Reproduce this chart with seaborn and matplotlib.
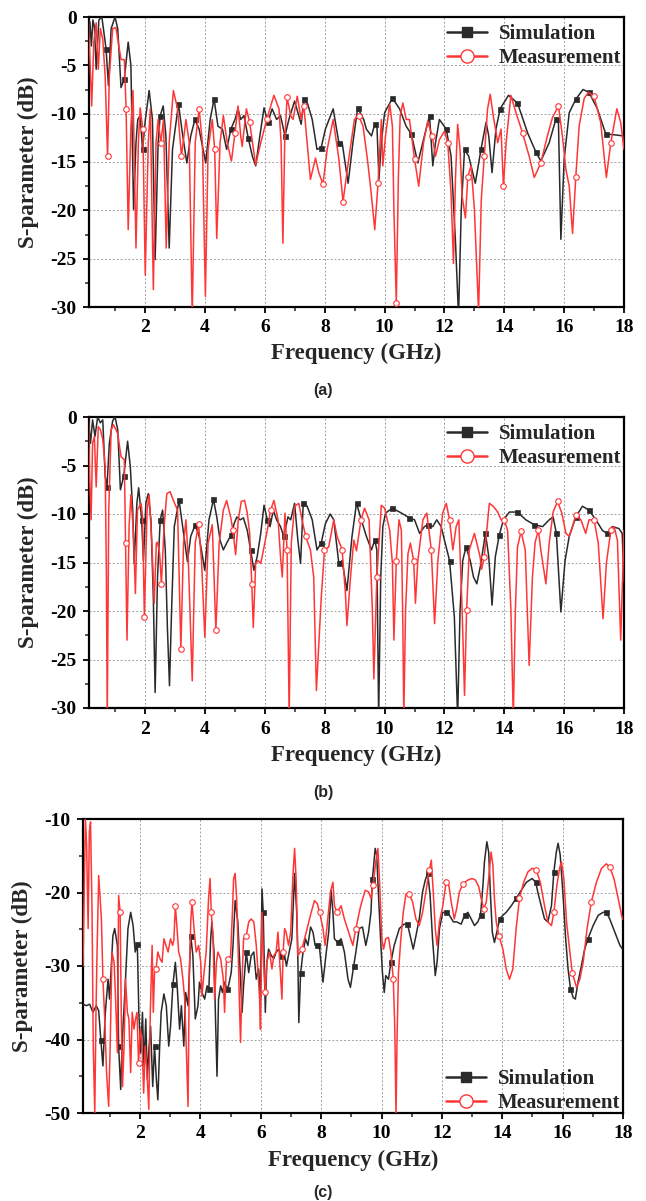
import numpy as np
import matplotlib
matplotlib.use("Agg")
import matplotlib.pyplot as plt
import seaborn as sns
from matplotlib.lines import Line2D
from matplotlib.ticker import MultipleLocator

# ---------------- data ----------------
# (a)
a_sim_f = [0.15, 0.2, 0.25, 0.3, 0.36, 0.45, 0.55, 0.69, 0.77, 0.86, 0.99, 1.08, 1.19, 1.3, 1.43, 1.52, 1.61, 1.69,
           1.75, 1.83, 1.91, 2.0, 2.13, 2.24, 2.33, 2.43, 2.5, 2.6, 2.69, 2.8, 2.91, 3.11, 3.24, 3.39, 3.52, 3.66, 3.8,
           4.02, 4.17, 4.3, 4.43, 4.58, 4.72, 4.86, 5.0, 5.1, 5.19, 5.3, 5.44, 5.58, 5.69, 5.83, 5.97, 6.1, 6.24, 6.39,
           6.52, 6.67, 6.8, 6.99, 7.13, 7.21, 7.3, 7.43, 7.58, 7.74, 7.88, 8.02, 8.28, 8.47, 8.58, 8.78, 8.94, 9.1, 9.3,
           9.39, 9.56, 9.67, 9.74, 9.81, 9.89, 10.0, 10.26, 10.5, 10.72, 10.89, 11.11, 11.33, 11.5, 11.61, 11.7, 11.83,
           12.06, 12.22, 12.37, 12.47, 12.56, 12.67, 12.81, 13.03, 13.22, 13.39, 13.48, 13.59, 13.72, 13.86, 14.14,
           14.44, 14.78, 15.06, 15.22, 15.5, 15.72, 15.81, 15.89, 16.0, 16.17, 16.39, 16.63, 16.83, 17.11, 17.39,
           17.72, 17.97, 18.0]
a_sim_db = [-0.5, -3.0, -0.3, -1.0, -5.4, -0.3, 0.0, -3.3, -7.1, -1.2, 0.0, -1.2, -7.3, -6.4, -2.6, -5.0, -19.9, -13.0,
            -10.6, -10.2, -13.7, -10.7, -7.6, -10.6, -25.1, -13.0, -10.2, -9.2, -12.3, -23.9, -13.7, -9.0, -12.0, -15.1,
            -12.3, -10.6, -11.6, -15.1, -10.6, -8.5, -11.3, -11.6, -13.7, -11.6, -10.6, -9.5, -10.6, -10.2, -12.5,
            -14.4, -15.4, -12.3, -9.4, -10.9, -9.5, -10.6, -10.2, -12.3, -10.6, -8.7, -10.2, -11.1, -8.5, -9.0, -10.6,
            -13.7, -13.5, -11.6, -9.5, -13.0, -13.0, -17.2, -13.0, -9.4, -10.6, -11.6, -12.3, -11.1, -11.0, -16.8,
            -13.0, -9.9, -8.4, -9.5, -11.3, -12.1, -15.1, -12.3, -10.2, -15.4, -13.0, -10.6, -11.6, -14.4, -23.4,
            -31.0, -20.0, -13.7, -14.4, -17.2, -13.7, -10.9, -12.3, -16.1, -11.6, -9.5, -8.1, -8.9, -12.0, -14.0,
            -14.9, -13.0, -10.6, -11.0, -23.0, -14.7, -9.9, -8.5, -7.5, -7.8, -9.5, -12.1, -12.2, -12.3, -13.0]
a_mea_f = [0.1, 0.17, 0.21, 0.28, 0.36, 0.43, 0.5, 0.58, 0.66, 0.74, 0.8, 0.91, 1.02, 1.19, 1.3, 1.36, 1.43, 1.52,
           1.59, 1.69, 1.77, 1.83, 1.92, 2.0, 2.1, 2.17, 2.27, 2.36, 2.43, 2.52, 2.61, 2.7, 2.8, 2.94, 3.08, 3.21,
           3.36, 3.47, 3.57, 3.67, 3.8, 3.91, 4.01, 4.1, 4.24, 4.32, 4.39, 4.5, 4.61, 4.74, 4.88, 5.0, 5.1, 5.19,
           5.24, 5.38, 5.49, 5.69, 5.86, 6.06, 6.3, 6.47, 6.54, 6.6, 6.66, 6.74, 6.86, 6.94, 7.08, 7.21, 7.3, 7.41,
           7.52, 7.69, 7.8, 7.94, 8.08, 8.28, 8.47, 8.61, 8.8, 8.99, 9.13, 9.28, 9.44, 9.56, 9.67, 9.78, 9.89, 9.94,
           10.03, 10.17, 10.26, 10.31, 10.39, 10.46, 10.52, 10.61, 10.72, 10.83, 11.0, 11.14, 11.3, 11.44, 11.59,
           11.7, 11.83, 12.0, 12.11, 12.22, 12.3, 12.37, 12.44, 12.52, 12.59, 12.7, 12.78, 12.89, 13.0, 13.14,
           13.23, 13.33, 13.44, 13.53, 13.63, 13.78, 13.89, 13.97, 14.06, 14.22, 14.39, 14.61, 14.83, 15.0, 15.22,
           15.44, 15.61, 15.81, 15.94, 16.06, 16.17, 16.28, 16.39, 16.5, 16.67, 16.81, 17.0, 17.22, 17.41, 17.56,
           17.76, 17.89, 18.0]
a_mea_db = [-0.2, -6.0, -9.2, -2.6, -0.6, -5.4, -1.2, -2.3, -6.1, -14.4, -6.1, -1.2, -1.1, -4.4, -4.4, -9.5, -22.0,
            -11.3, -7.6, -23.9, -13.0, -9.4, -11.6, -26.7, -13.0, -9.5, -28.2, -13.0, -10.6, -13.0, -10.6, -23.9,
            -13.0, -7.6, -9.5, -14.4, -10.6, -13.0, -31.0, -13.0, -9.5, -13.0, -28.9, -13.7, -10.6, -13.7, -22.9,
            -13.0, -10.2, -13.0, -14.9, -12.0, -9.2, -12.3, -13.4, -9.5, -10.9, -15.3, -13.0, -10.6, -8.1, -9.5,
            -13.0, -23.4, -13.0, -8.3, -10.2, -10.6, -8.2, -10.6, -9.2, -13.0, -16.8, -14.6, -16.1, -17.3, -13.7,
            -10.6, -14.7, -19.1, -14.7, -10.6, -10.2, -11.3, -15.1, -18.5, -22.0, -17.2, -10.6, -15.4, -12.3, -9.0,
            -11.3, -20.0, -29.6, -16.5, -10.2, -8.9, -10.6, -10.6, -14.7, -17.5, -13.0, -10.8, -12.3, -14.4, -12.7,
            -11.8, -13.0, -18.2, -25.5, -16.5, -11.1, -13.7, -18.5, -20.8, -16.5, -15.4, -19.9, -30.5, -18.9, -14.4,
            -9.5, -8.0, -10.2, -13.0, -11.6, -17.5, -13.0, -8.1, -9.9, -12.0, -14.4, -16.6, -15.1, -12.3, -10.4,
            -9.2, -12.3, -15.8, -17.5, -22.4, -16.5, -11.3, -8.4, -7.8, -8.2, -10.9, -16.6, -13.0, -9.5, -10.9, -13.7]

# (b)
b_sim_f = [0.1, 0.17, 0.24, 0.32, 0.41, 0.5, 0.58, 0.66, 0.72, 0.8, 0.91, 0.99, 1.08, 1.17, 1.28, 1.41, 1.5, 1.58,
           1.63, 1.72, 1.78, 1.88, 1.94, 2.02, 2.1, 2.19, 2.27, 2.33, 2.41, 2.5, 2.58, 2.67, 2.74, 2.81, 2.88, 2.97,
           3.13, 3.28, 3.41, 3.52, 3.67, 3.8, 3.99, 4.13, 4.28, 4.39, 4.5, 4.61, 4.72, 4.86, 4.97, 5.06, 5.17, 5.28,
           5.41, 5.52, 5.63, 5.74, 5.86, 5.97, 6.08, 6.17, 6.28, 6.39, 6.52, 6.63, 6.77, 6.86, 6.99, 7.1, 7.19, 7.28,
           7.41, 7.58, 7.74, 7.88, 8.02, 8.18, 8.3, 8.47, 8.58, 8.74, 8.91, 9.06, 9.22, 9.39, 9.56, 9.67, 9.74, 9.8,
           9.87, 9.94, 10.03, 10.26, 10.56, 10.83, 11.0, 11.17, 11.33, 11.44, 11.61, 11.74, 11.89, 12.0, 12.17,
           12.33, 12.44, 12.52, 12.61, 12.72, 12.86, 12.97, 13.08, 13.2, 13.37, 13.48, 13.59, 13.7, 13.83, 13.97,
           14.17, 14.44, 14.72, 15.0, 15.28, 15.5, 15.63, 15.74, 15.89, 16.03, 16.17, 16.39, 16.61, 16.83, 17.06,
           17.28, 17.44, 17.61, 17.83, 17.94, 18.0]
b_sim_db = [-0.3, -2.7, -0.3, -2.0, 0.0, -0.6, -0.3, -6.1, -7.2, -2.7, -0.4, 0.0, -1.3, -7.5, -6.1, -2.5, -5.1, -9.6,
            -15.1, -8.9, -7.3, -10.6, -14.8, -8.9, -7.9, -10.6, -18.6, -28.4, -16.5, -10.6, -9.6, -13.7, -21.7, -27.7,
            -19.9, -11.3, -8.6, -12.0, -14.9, -12.3, -11.1, -12.3, -15.8, -10.6, -8.5, -10.3, -12.7, -13.7, -13.0,
            -12.2, -11.0, -10.3, -10.6, -10.4, -11.7, -13.7, -15.8, -14.4, -12.0, -9.1, -10.6, -11.3, -9.6, -10.6,
            -11.3, -12.3, -10.3, -10.6, -8.9, -12.7, -15.1, -8.9, -9.2, -10.6, -13.7, -13.0, -11.0, -10.0, -10.6,
            -15.1, -14.8, -17.9, -12.3, -8.9, -10.6, -12.3, -13.7, -12.7, -13.7, -31.0, -16.5, -11.3, -9.9, -9.4,
            -9.9, -10.4, -10.6, -12.0, -11.3, -11.1, -11.3, -10.6, -11.3, -12.7, -14.8, -20.6, -31.0, -20.0, -14.8,
            -13.4, -14.8, -16.5, -17.2, -15.4, -12.0, -14.4, -19.4, -14.4, -12.2, -10.6, -9.8, -9.8, -10.6, -11.1,
            -11.3, -10.6, -10.3, -12.0, -20.1, -14.8, -12.3, -10.3, -9.2, -9.6, -10.6, -11.7, -12.0, -11.3, -11.5,
            -12.0, -17.0]
b_mea_f = [0.1, 0.14, 0.19, 0.24, 0.3, 0.36, 0.43, 0.5, 0.58, 0.66, 0.7, 0.73, 0.78, 0.86, 0.94, 1.08, 1.19, 1.3,
           1.34, 1.39, 1.46, 1.52, 1.61, 1.67, 1.74, 1.86, 1.91, 1.97, 2.06, 2.13, 2.22, 2.3, 2.37, 2.41, 2.48, 2.54,
           2.63, 2.72, 2.83, 2.94, 3.08, 3.19, 3.28, 3.36, 3.44, 3.57, 3.67, 3.78, 3.88, 3.99, 4.1, 4.24, 4.36, 4.47,
           4.61, 4.72, 4.86, 4.93, 5.02, 5.11, 5.21, 5.32, 5.41, 5.49, 5.56, 5.61, 5.69, 5.77, 5.86, 5.97, 6.1, 6.19,
           6.3, 6.44, 6.52, 6.58, 6.67, 6.74, 6.81, 6.88, 6.99, 7.13, 7.24, 7.36, 7.52, 7.63, 7.72, 7.8, 7.88, 7.99,
           8.13, 8.3, 8.41, 8.58, 8.69, 8.74, 8.86, 8.97, 9.06, 9.21, 9.33, 9.48, 9.59, 9.64, 9.74, 9.89, 10.0,
           10.17, 10.26, 10.31, 10.39, 10.48, 10.56, 10.61, 10.64, 10.7, 10.78, 10.86, 10.97, 11.03, 11.11, 11.28,
           11.41, 11.56, 11.67, 11.78, 11.94, 12.06, 12.17, 12.28, 12.39, 12.48, 12.59, 12.67, 12.74, 12.83, 13.0,
           13.19, 13.24, 13.33, 13.5, 13.63, 13.78, 13.89, 14.0, 14.11, 14.22, 14.3, 14.37, 14.44, 14.56, 14.7,
           14.83, 14.94, 15.03, 15.14, 15.22, 15.39, 15.5, 15.63, 15.78, 15.92, 16.06, 16.17, 16.26, 16.39, 16.56,
           16.72, 16.83, 17.0, 17.14, 17.3, 17.41, 17.56, 17.67, 17.78, 17.89, 18.0]
b_mea_db = [0.0, -6.1, -10.6, -2.7, -2.0, -7.2, -1.0, -1.3, -2.3, -5.1, -15.8, -31.0, -9.6, -1.3, -0.8, -1.7, -4.1,
            -4.4, -13.0, -23.0, -11.3, -8.0, -12.3, -18.2, -9.6, -8.9, -10.3, -20.6, -9.6, -8.0, -13.0, -19.2, -13.0,
            -12.9, -14.1, -17.2, -11.3, -7.9, -7.7, -8.6, -9.6, -23.9, -13.0, -10.6, -14.8, -27.2, -13.0, -11.0,
            -14.8, -22.7, -13.0, -11.1, -22.0, -13.0, -9.6, -8.6, -10.4, -11.7, -14.2, -10.6, -8.7, -8.6, -9.9,
            -12.0, -17.2, -21.7, -15.1, -14.8, -15.1, -13.4, -11.3, -9.6, -8.6, -10.6, -14.4, -16.5, -9.9, -13.7,
            -31.0, -13.0, -9.2, -8.9, -10.6, -12.3, -13.7, -16.5, -28.2, -23.4, -18.7, -13.7, -13.4, -10.6, -12.3,
            -13.7, -18.2, -21.5, -16.5, -12.7, -13.8, -10.6, -9.4, -10.6, -19.9, -27.0, -16.5, -9.1, -9.4, -11.7,
            -15.1, -23.0, -14.8, -10.6, -11.7, -21.7, -31.0, -19.9, -14.1, -13.0, -14.8, -19.2, -14.8, -10.6, -9.9,
            -13.7, -21.3, -14.8, -9.9, -8.9, -10.6, -13.7, -11.3, -10.6, -19.9, -28.7, -19.9, -13.7, -12.0, -14.4,
            -15.7, -14.4, -8.9, -9.2, -9.8, -10.6, -10.6, -11.7, -19.9, -31.0, -19.9, -13.4, -11.8, -13.7, -25.6,
            -16.5, -12.9, -11.7, -13.7, -17.2, -13.0, -9.8, -8.7, -9.9, -12.0, -12.3, -11.5, -10.1, -10.6, -12.0,
            -10.6, -10.6, -13.0, -20.8, -15.1, -11.7, -11.3, -12.7, -23.0, -11.7]

# (c)
c_sim_f = [0.11, 0.22, 0.33, 0.44, 0.55, 0.63, 0.7, 0.77, 0.85, 0.94, 0.99, 1.1, 1.16, 1.25, 1.29, 1.36, 1.41, 1.49,
           1.6, 1.69, 1.77, 1.84, 1.91, 1.96, 2.02, 2.08, 2.13, 2.19, 2.24, 2.3, 2.35, 2.42, 2.48, 2.54, 2.59, 2.65,
           2.7, 2.79, 2.87, 2.95, 3.01, 3.09, 3.17, 3.23, 3.31, 3.37, 3.45, 3.51, 3.59, 3.68, 3.75, 3.83, 3.92, 3.97,
           4.05, 4.14, 4.22, 4.28, 4.34, 4.38, 4.45, 4.5, 4.55, 4.6, 4.67, 4.73, 4.8, 4.88, 4.93, 5.02, 5.08, 5.15,
           5.24, 5.32, 5.38, 5.43, 5.52, 5.6, 5.68, 5.77, 5.85, 5.93, 5.99, 6.04, 6.08, 6.15, 6.2, 6.26, 6.35, 6.43,
           6.51, 6.6, 6.68, 6.77, 6.85, 6.94, 7.03, 7.12, 7.19, 7.23, 7.26, 7.32, 7.4, 7.48, 7.56, 7.65, 7.73, 7.8,
           7.87, 7.95, 8.06, 8.17, 8.25, 8.33, 8.39, 8.44, 8.55, 8.66, 8.77, 8.89, 8.97, 9.08, 9.15, 9.26, 9.37,
           9.48, 9.57, 9.65, 9.7, 9.79, 9.84, 9.9, 9.98, 10.03, 10.09, 10.14, 10.23, 10.31, 10.42, 10.59, 10.75,
           10.86, 10.97, 11.05, 11.14, 11.25, 11.36, 11.45, 11.53, 11.61, 11.69, 11.78, 11.84, 11.92, 12.03, 12.14,
           12.25, 12.38, 12.49, 12.64, 12.75, 12.86, 12.97, 13.08, 13.19, 13.28, 13.36, 13.41, 13.49, 13.55, 13.61,
           13.67, 13.74, 13.82, 13.91, 14.02, 14.13, 14.3, 14.46, 14.63, 14.8, 14.99, 15.11, 15.18, 15.29, 15.4,
           15.51, 15.63, 15.71, 15.79, 15.85, 15.92, 16.02, 16.1, 16.18, 16.26, 16.35, 16.42, 16.51, 16.62, 16.73,
           16.84, 17.01, 17.18, 17.34, 17.45, 17.56, 17.73, 17.9, 17.98]
c_sim_db = [-35.2, -35.4, -35.2, -36.3, -35.4, -36.1, -40.0, -43.6, -36.3, -31.8, -34.5, -25.9, -24.9, -27.2, -40.9,
            -46.8, -40.2, -34.1, -24.9, -22.7, -24.5, -28.1, -27.0, -36.3, -41.8, -36.3, -43.6, -37.2, -45.4, -40.9,
            -38.2, -46.4, -40.9, -45.4, -48.2, -40.9, -36.3, -33.8, -35.4, -40.9, -38.2, -32.5, -29.5, -32.7, -38.6,
            -35.4, -40.9, -33.6, -35.4, -25.9, -28.6, -37.2, -35.4, -32.2, -33.6, -34.5, -32.7, -33.1, -26.3, -24.0,
            -28.1, -37.2, -45.0, -34.5, -32.7, -33.6, -32.2, -33.1, -32.7, -30.9, -27.2, -21.1, -24.0, -30.9, -36.3,
            -32.7, -28.1, -30.9, -28.6, -28.1, -31.8, -30.4, -34.5, -19.5, -22.7, -36.3, -29.5, -27.7, -28.6, -29.0,
            -28.1, -27.7, -28.6, -28.1, -30.0, -28.1, -26.3, -17.4, -22.7, -29.5, -37.7, -30.9, -28.1, -26.3, -27.2,
            -24.7, -25.4, -27.2, -27.2, -27.7, -32.2, -28.1, -25.4, -19.7, -22.7, -26.3, -26.8, -26.3, -28.1, -31.8,
            -32.9, -30.0, -28.1, -24.9, -24.7, -27.2, -25.4, -22.7, -18.1, -14.0, -14.9, -20.4, -27.2, -30.9, -33.6,
            -31.3, -31.8, -29.5, -27.2, -24.9, -24.3, -24.3, -26.3, -27.7, -25.9, -23.6, -19.9, -18.3, -17.4, -20.4,
            -26.3, -31.3, -29.5, -24.9, -22.7, -22.7, -23.1, -24.0, -24.0, -24.3, -23.1, -22.7, -23.6, -24.5, -24.0,
            -23.1, -19.0, -15.8, -13.1, -14.5, -20.4, -25.4, -26.8, -25.4, -23.6, -23.1, -22.7, -21.8, -20.8, -19.7,
            -18.6, -18.1, -18.6, -20.0, -21.8, -23.6, -24.0, -21.8, -17.2, -14.5, -13.3, -14.9, -20.8, -26.3, -30.4,
            -33.1, -34.3, -34.5, -32.2, -30.0, -27.7, -26.3, -24.5, -23.1, -22.7, -22.7, -23.6, -25.4, -27.2, -27.7]
c_mea_f = [0.11, 0.14, 0.19, 0.23, 0.28, 0.32, 0.36, 0.41, 0.45, 0.5, 0.54, 0.58, 0.63, 0.67, 0.72, 0.77, 0.83, 0.89,
           0.96, 1.01, 1.07, 1.14, 1.19, 1.25, 1.29, 1.34, 1.38, 1.42, 1.47, 1.52, 1.58, 1.63, 1.69, 1.74, 1.8, 1.85,
           1.9, 1.95, 2.01, 2.06, 2.12, 2.17, 2.23, 2.29, 2.34, 2.4, 2.44, 2.48, 2.53, 2.59, 2.66, 2.73, 2.79, 2.86,
           2.93, 3.01, 3.08, 3.12, 3.17, 3.21, 3.28, 3.34, 3.42, 3.48, 3.53, 3.59, 3.63, 3.68, 3.72, 3.79, 3.86, 3.94,
           4.01, 4.05, 4.12, 4.19, 4.27, 4.32, 4.36, 4.42, 4.47, 4.53, 4.58, 4.67, 4.76, 4.8, 4.86, 4.93, 5.0, 5.06,
           5.1, 5.15, 5.2, 5.24, 5.3, 5.33, 5.38, 5.43, 5.52, 5.6, 5.68, 5.77, 5.85, 5.91, 5.96, 5.99, 6.04, 6.09,
           6.15, 6.2, 6.29, 6.37, 6.43, 6.51, 6.57, 6.62, 6.66, 6.7, 6.74, 6.79, 6.84, 6.92, 6.99, 7.06, 7.12, 7.17,
           7.23, 7.3, 7.36, 7.45, 7.56, 7.67, 7.78, 7.87, 7.95, 8.06, 8.13, 8.22, 8.31, 8.39, 8.44, 8.53, 8.66, 8.77,
           8.91, 9.05, 9.15, 9.31, 9.46, 9.57, 9.65, 9.72, 9.81, 9.88, 9.94, 10.01, 10.07, 10.14, 10.23, 10.31,
           10.39, 10.44, 10.48, 10.51, 10.56, 10.64, 10.72, 10.81, 10.92, 11.03, 11.14, 11.25, 11.36, 11.47, 11.58,
           11.65, 11.72, 11.78, 11.84, 11.92, 12.03, 12.14, 12.23, 12.31, 12.41, 12.49, 12.58, 12.71, 12.86, 13.0,
           13.11, 13.22, 13.3, 13.39, 13.47, 13.55, 13.63, 13.69, 13.74, 13.8, 13.89, 14.02, 14.13, 14.24, 14.35,
           14.46, 14.57, 14.71, 14.85, 14.99, 15.13, 15.26, 15.4, 15.51, 15.63, 15.71, 15.81, 15.9, 15.96, 16.04,
           16.13, 16.24, 16.32, 16.46, 16.57, 16.68, 16.81, 16.95, 17.12, 17.29, 17.45, 17.56, 17.7, 17.84, 17.98]
c_mea_db = [-30.0, -22.7, -10.0, -13.6, -24.9, -11.7, -10.4, -22.7, -40.9, -50.0, -36.3, -27.2, -17.7, -20.4, -23.6,
            -31.8, -37.2, -44.5, -49.1, -40.9, -28.1, -29.5, -34.5, -41.8, -20.4, -22.7, -37.2, -46.4, -40.9, -31.8,
            -36.3, -37.2, -44.5, -36.3, -38.6, -37.2, -36.3, -43.2, -38.6, -40.0, -47.3, -40.9, -44.5, -49.5, -36.3,
            -27.2, -36.3, -30.9, -30.4, -28.1, -29.0, -29.5, -26.3, -27.2, -28.1, -26.3, -27.2, -26.5, -21.8, -24.0,
            -28.1, -29.0, -31.8, -34.5, -40.9, -49.1, -31.8, -24.0, -21.3, -25.0, -28.1, -27.2, -29.5, -34.1, -30.9,
            -28.1, -20.8, -18.1, -22.7, -26.3, -34.5, -29.5, -28.1, -29.0, -31.8, -36.3, -29.5, -29.0, -28.6, -22.7,
            -18.1, -17.4, -20.8, -26.3, -36.3, -40.4, -31.8, -26.3, -25.9, -24.0, -23.6, -24.0, -27.2, -30.9, -34.5,
            -38.6, -22.7, -29.5, -33.6, -29.5, -28.1, -30.4, -28.6, -28.1, -25.4, -29.0, -31.8, -34.5, -28.1, -24.9,
            -25.4, -27.2, -25.4, -18.1, -14.0, -18.1, -28.6, -28.1, -27.7, -26.3, -24.5, -22.7, -21.1, -21.5, -22.7,
            -24.9, -27.2, -23.6, -19.9, -18.6, -21.8, -22.7, -21.8, -23.6, -25.4, -27.2, -24.9, -21.8, -19.7, -19.9,
            -20.8, -19.0, -15.8, -14.0, -19.0, -26.3, -27.7, -26.3, -26.1, -28.1, -31.8, -38.6, -50.5, -40.9, -30.9,
            -26.3, -22.7, -20.2, -20.2, -21.3, -23.6, -24.5, -22.7, -19.9, -17.0, -15.6, -20.4, -24.9, -27.2, -24.0,
            -21.8, -18.6, -19.0, -21.3, -23.6, -22.2, -19.9, -18.8, -18.3, -18.1, -18.3, -19.2, -20.8, -22.2, -21.3,
            -18.1, -14.5, -16.3, -20.8, -24.0, -25.9, -27.7, -30.4, -31.8, -30.4, -24.9, -20.8, -18.6, -17.2, -16.7,
            -17.0, -18.6, -21.8, -24.0, -24.5, -22.7, -19.0, -16.7, -15.8, -18.1, -24.0, -28.1, -30.9, -32.9, -31.8,
            -29.5, -24.9, -21.3, -18.6, -16.7, -16.1, -16.5, -18.1, -20.8, -23.6]

x_ticks = [2, 4, 6, 8, 10, 12, 14, 16, 18]
series_names = ["Simulation", "Measurement"]
panel_tags = ["(a)", "(b)", "(c)"]

# ---------------- style ----------------
sns.set_theme(style="ticks")
plt.rcParams["font.family"] = ["Liberation Serif", "DejaVu Serif"]
plt.rcParams["font.weight"] = "bold"
plt.rcParams["axes.labelweight"] = "bold"
plt.rcParams["axes.unicode_minus"] = False

BLACK = "#2a2a2a"
RED = "#ff3636"

fig = plt.figure(figsize=(6.46, 12.01), dpi=100)
W, H = 646.0, 1201.0


def ax_rect(l, r, t, b):
    return [l / W, 1 - b / H, (r - l) / W, (b - t) / H]


rects = [ax_rect(89.3, 624, 17, 307), ax_rect(89.3, 624, 417, 708), ax_rect(83.3, 623, 819, 1113)]
data = [(a_sim_f, a_sim_db, a_mea_f, a_mea_db), (b_sim_f, b_sim_db, b_mea_f, b_mea_db),
        (c_sim_f, c_sim_db, c_mea_f, c_mea_db)]
ylims = [(-30, 0), (-30, 0), (-50, -10)]
ymajor = [5, 5, 10]
xmins = [0.13, 0.13, 0.12]
tag_y = [390, 792, 1192]


def mark_idx(f, start, step=0.6):
    f = np.asarray(f)
    idx = sorted(set(int(np.argmin(np.abs(f - t))) for t in np.arange(start, 18.01, step)))
    return idx


for i in range(3):
    ax = fig.add_axes(rects[i])
    sf, sd, mf, md = data[i]
    sns.lineplot(x=sf, y=sd, ax=ax, sort=False, estimator=None, color=BLACK, lw=1.1,
                 marker="s", ms=3.6, mfc=BLACK, mec=BLACK, mew=0.5, markevery=mark_idx(sf, 0.7), zorder=3)
    sns.lineplot(x=mf, y=md, ax=ax, sort=False, estimator=None, color=RED, lw=1.1,
                 marker="o", ms=4.0, mfc="white", mec=RED, mew=0.8, markevery=mark_idx(mf, 0.75), zorder=4)
    ax.set_xlim(xmins[i], 18)
    ax.set_ylim(*ylims[i])
    ax.set_xticks(x_ticks)
    ax.xaxis.set_minor_locator(MultipleLocator(1))
    ax.yaxis.set_major_locator(MultipleLocator(ymajor[i]))
    ax.yaxis.set_minor_locator(MultipleLocator(ymajor[i] / 2))
    ax.grid(True, which="major", color="#a0a0a0", lw=0.7, ls=(0, (2, 2)))
    ax.set_axisbelow(True)
    for s in ax.spines.values():
        s.set_visible(True)
        s.set_color("black")
        s.set_linewidth(1.6)
    ax.tick_params(which="major", direction="out", length=4, width=1.3, labelsize=14, pad=5,
                   top=False, right=False, colors="black")
    ax.tick_params(which="minor", direction="out", length=3, width=1.1, top=False, right=False)
    for lab in ax.get_xticklabels() + ax.get_yticklabels():
        lab.set_fontweight("bold")
    ax.set_xlabel("Frequency (GHz)", fontsize=16.5, fontweight="bold")
    ax.set_ylabel("S-parameter (dB)", fontsize=16.5, fontweight="bold")
    ax.xaxis.set_label_coords(0.5, -0.125)
    ax.yaxis.set_label_coords(-0.094, 0.5)

    handles = [Line2D([], [], color=BLACK, lw=1.8, marker="s", ms=7, mfc=BLACK, mec=BLACK),
               Line2D([], [], color=RED, lw=1.8, marker="o", ms=9.5, mfc="white", mec=RED, mew=1.0)]
    if i < 2:
        ax.legend(handles, series_names, loc="upper right", bbox_to_anchor=(0.995, 0.975),
                  frameon=False, handlelength=1.95, handletextpad=0.55,
                  labelspacing=0.2, borderpad=0.0, borderaxespad=0.0,
                  prop={"weight": "bold", "size": 15})
    else:
        ax.legend(handles, series_names, loc="lower right", bbox_to_anchor=(0.995, 0.0),
                  frameon=False, handlelength=1.95, handletextpad=0.55,
                  labelspacing=0.2, borderpad=0.0, borderaxespad=0.0,
                  prop={"weight": "bold", "size": 15})
    fig.text(0.5, 1 - tag_y[i] / H, panel_tags[i], ha="center", va="center",
             family=["Liberation Sans", "DejaVu Sans"], fontweight="bold", fontsize=11.5)

fig.savefig("out.png", dpi=100)
